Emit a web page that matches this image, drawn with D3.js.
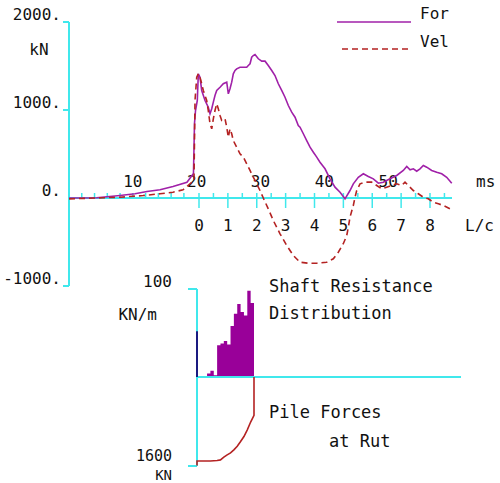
<!DOCTYPE html>
<html><head><meta charset="utf-8">
<script src="https://cdn.jsdelivr.net/npm/d3@7"></script>
<style>
html,body{margin:0;padding:0;background:#fff;}
svg{display:block;}
text{font-family:"DejaVu Sans Mono","Liberation Mono",monospace;fill:#111;}
</style></head>
<body>
<script>
// ---------- DATA ----------
const forceTime = [0,4.34,7.99,10.34,12.22,14.26,16.29,18.48,19.27,19.5,19.66,19.82,20.1,20.26,20.52,20.79,21.31,21.82,22.09,22.36,22.61,22.87,23.14,23.66,24.17,24.71,24.96,25.22,25.49,25.74,26.01,26.27,26.79,27.84,28.09,28.36,28.62,28.87,29.14,29.66,30.19,30.71,31.22,31.76,32.27,32.79,33.32,33.84,34.36,34.89,35.41,35.92,36.19,36.71,37.24,37.76,38.28,38.81,39.32,40.11,40.89,41.67,42.46,43.24,44.02,44.54,45.32,46.11,46.89,47.67,48.46,49.24,50.29,51.34,52.37,52.91,53.43,53.95,54.47,54.99,55.51,56.04,56.82,57.61,58.39,59.17,59.96];
const forceVals = [0,2,28,48,74,93,131,179,255,278,847,994,1108,1411,1373,1222,1108,1032,957,1014,1089,1165,1222,1259,1298,1316,1184,1241,1316,1411,1449,1468,1486,1486,1506,1525,1600,1619,1631,1582,1555,1555,1506,1449,1392,1298,1222,1145,1051,975,918,824,805,730,653,577,520,464,407,332,218,123,66,-9,85,161,236,275,244,218,168,180,218,256,313,358,320,332,305,332,369,350,313,293,275,236,168];
const velTime = [0,7.99,11.59,14.26,16.29,17.86,18.95,19.58,19.74,20.01,20.26,20.52,20.79,21.04,21.31,21.57,21.82,22.09,22.36,22.61,22.87,23.14,23.39,23.66,23.92,24.44,24.71,24.96,25.22,25.49,25.74,26.27,26.79,27.31,27.84,28.36,28.87,29.41,29.92,30.44,31.22,32.01,33.06,34.11,35.14,36.19,37.49,38.81,40.37,41.41,42.19,42.97,43.51,43.76,44.02,44.54,44.81,45.07,45.59,46.37,47.42,48.21,48.99,49.77,50.56,51.34,52.12,52.64,53.16,53.94,54.72,55.51,56.29,57.07,57.86,58.64,59.69];
const velVals = [-10,9,28,48,66,93,161,199,1108,1373,1411,1373,1298,1222,1165,1108,994,843,786,900,994,1070,1014,938,881,900,805,691,786,730,653,577,502,464,389,313,236,161,85,0,-123,-256,-407,-540,-653,-730,-741,-741,-730,-691,-616,-520,-426,-332,-218,-85,9,85,161,180,180,142,105,123,142,161,142,180,142,85,48,9,-9,-48,-66,-85,-123];

const yTickVals = [2000,1000,0,-1000];
const yTickLabels = ["2000.","1000.","0.","-1000."];
const msLabelVals = [10,20,30,40,50];
const msMinorTicks = [2,4,6,8,10,12,14,16,18];
const lcTickVals = [0,1,2,3,4,5,6,7,8];
const lcTickLabels = ["0","1","2","3","4","5","6","7","8"];
const lcHalfTicks = [0.5,1.5,2.5,3.5,4.5,5.5,6.5,7.5,8.5];
const legendNames = ["For","Vel"];

// shaft resistance distribution (kN/m) per pile segment
const shaftSegments = [0,0,0,4,7,2,36,38,41,37,58,72,83,74,70,98,84];
const shaftMarker = 52;
const shaftMax = 100;
// pile forces (kN) along segment boundaries
const forceDepth = [0,0,1,2,3,4,5,6,7,8,9,10,11,12,13,14,15,16,17,17];
const pileForce = [1590,1510,1510,1510,1510,1510,1505,1500,1490,1440,1400,1365,1310,1245,1160,1070,950,810,690,0];
const pileForceMax = 1600;

// ---------- LAYOUT ----------
const W = 500, H = 483;
const cyan = "#40e8ec", purple = "#a020a8", red = "#b42222", fillPurple = "#990099";

const svg = d3.select("body").append("svg").attr("width", W).attr("height", H);

const xT = d3.scaleLinear().domain([0,60]).range([69,452]);
const yF = d3.scaleLinear().domain([-1000,2000]).range([286,22]);
const xL = d3.scaleLinear().domain([0,8]).range([199,430]);
const y0 = yF(0);

// y axis
svg.append("line").attr("x1",69).attr("x2",69).attr("y1",yF(2000)).attr("y2",yF(-1000))
  .attr("stroke",cyan).attr("stroke-width",2);
svg.selectAll(".ytick").data(yTickVals.filter(v=>v!==0)).enter().append("line")
  .attr("x1",63).attr("x2",69).attr("y1",d=>yF(d)).attr("y2",d=>yF(d))
  .attr("stroke",cyan).attr("stroke-width",2);
svg.selectAll(".ylab").data(yTickVals).enter().append("text")
  .attr("x",61).attr("y",d=>yF(d)-2).attr("text-anchor","end")
  .attr("font-size",16).text((d,i)=>yTickLabels[i]);
svg.append("text").attr("x",39).attr("y",55).attr("text-anchor","middle").attr("font-size",16).text("kN");

// x axis
svg.append("line").attr("x1",69).attr("x2",452).attr("y1",y0).attr("y2",y0)
  .attr("stroke",cyan).attr("stroke-width",2);
svg.selectAll(".msminor").data(msMinorTicks).enter().append("line")
  .attr("x1",d=>xT(d)).attr("x2",d=>xT(d)).attr("y1",y0-5).attr("y2",y0)
  .attr("stroke",cyan).attr("stroke-width",1.5);
svg.selectAll(".lchalf").data(lcHalfTicks).enter().append("line")
  .attr("x1",d=>xL(d)).attr("x2",d=>xL(d)).attr("y1",y0-5).attr("y2",y0)
  .attr("stroke",cyan).attr("stroke-width",1.5);
svg.selectAll(".lctick").data(lcTickVals).enter().append("line")
  .attr("x1",d=>xL(d)).attr("x2",d=>xL(d)).attr("y1",y0-5).attr("y2",y0+10)
  .attr("stroke",cyan).attr("stroke-width",1.5);
svg.selectAll(".mslab").data(msLabelVals).enter().append("text")
  .attr("x",d=>xT(d)).attr("y",187).attr("text-anchor","middle").attr("font-size",16).text(d=>d);
svg.selectAll(".lclab").data(lcTickVals).enter().append("text")
  .attr("x",d=>xL(d)).attr("y",231).attr("text-anchor","middle").attr("font-size",16).text((d,i)=>lcTickLabels[i]);
svg.append("text").attr("x",476).attr("y",187).attr("font-size",16).text("ms");
svg.append("text").attr("x",465).attr("y",231).attr("font-size",16).text("L/c");

// curves
const fLine = d3.line().x(d=>xT(d[0])).y(d=>yF(d[1]));
svg.append("path").datum(forceTime.map((t,i)=>[t,forceVals[i]])).attr("d",fLine)
  .attr("fill","none").attr("stroke",purple).attr("stroke-width",1.6);
svg.append("path").datum(velTime.map((t,i)=>[t,velVals[i]])).attr("d",fLine)
  .attr("fill","none").attr("stroke",red).attr("stroke-width",1.6).attr("stroke-dasharray","6,4");

// legend
svg.append("line").attr("x1",337).attr("x2",411).attr("y1",22).attr("y2",22).attr("stroke",purple).attr("stroke-width",1.6);
svg.append("line").attr("x1",342).attr("x2",411).attr("y1",49).attr("y2",49).attr("stroke",red).attr("stroke-width",1.6).attr("stroke-dasharray","6,4");
svg.append("text").attr("x",420).attr("y",19).attr("font-size",16).text(legendNames[0]);
svg.append("text").attr("x",420).attr("y",47).attr("font-size",16).text(legendNames[1]);

// ---------- LOWER CHART ----------
const xD = d3.scaleLinear().domain([0,17]).range([197,254]);
const yS = d3.scaleLinear().domain([0,shaftMax]).range([377,289]);
const yP = d3.scaleLinear().domain([0,pileForceMax]).range([377,466]);

svg.append("line").attr("x1",197).attr("x2",197).attr("y1",yS(shaftMax)).attr("y2",yP(pileForceMax))
  .attr("stroke",cyan).attr("stroke-width",2);
svg.append("line").attr("x1",188).attr("x2",197).attr("y1",yS(shaftMax)).attr("y2",yS(shaftMax)).attr("stroke",cyan).attr("stroke-width",2);
svg.append("line").attr("x1",188).attr("x2",197).attr("y1",yP(pileForceMax)).attr("y2",yP(pileForceMax)).attr("stroke",cyan).attr("stroke-width",2);

const segData = shaftSegments.map((v,i)=>[i,v]).concat([[shaftSegments.length, shaftSegments[shaftSegments.length-1]]]);
svg.append("path").datum(segData)
  .attr("d", d3.area().curve(d3.curveStepAfter).x(d=>xD(d[0])).y0(yS(0)).y1(d=>yS(d[1])))
  .attr("fill",fillPurple);
svg.append("line").attr("x1",197).attr("x2",461).attr("y1",yS(0)).attr("y2",yS(0)).attr("stroke",cyan).attr("stroke-width",2);
svg.append("line").attr("x1",197).attr("x2",197).attr("y1",yS(shaftMarker)).attr("y2",yS(0)).attr("stroke","#1a1a80").attr("stroke-width",2);

svg.append("path").datum(forceDepth.map((d,i)=>[d,pileForce[i]]))
  .attr("d", d3.line().x(d=>xD(d[0])).y(d=>yP(d[1])))
  .attr("fill","none").attr("stroke",red).attr("stroke-width",1.6);

svg.append("text").attr("x",172).attr("y",287).attr("text-anchor","end").attr("font-size",16).text("100");
svg.append("text").attr("x",157).attr("y",320).attr("text-anchor","end").attr("font-size",16).text("KN/m");
svg.append("text").attr("x",172).attr("y",461).attr("text-anchor","end").attr("font-size",15).text("1600");
svg.append("text").attr("x",172).attr("y",480).attr("text-anchor","end").attr("font-size",14).text("KN");

svg.append("text").attr("x",269).attr("y",292).attr("font-size",17).text("Shaft Resistance");
svg.append("text").attr("x",269).attr("y",319).attr("font-size",17).text("Distribution");
svg.append("text").attr("x",269).attr("y",418).attr("font-size",17).text("Pile Forces");
svg.append("text").attr("x",329).attr("y",447).attr("font-size",17).text("at Rut");
</script>
</body></html>
